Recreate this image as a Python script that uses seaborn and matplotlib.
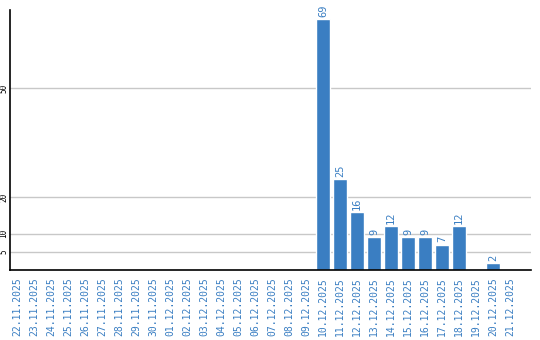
import matplotlib
matplotlib.use("Agg")
import matplotlib.pyplot as plt
import seaborn as sns
import pandas as pd

dates = ["22.11.2025", "23.11.2025", "24.11.2025", "25.11.2025", "26.11.2025",
         "27.11.2025", "28.11.2025", "29.11.2025", "30.11.2025", "01.12.2025",
         "02.12.2025", "03.12.2025", "04.12.2025", "05.12.2025", "06.12.2025",
         "07.12.2025", "08.12.2025", "09.12.2025", "10.12.2025", "11.12.2025",
         "12.12.2025", "13.12.2025", "14.12.2025", "15.12.2025", "16.12.2025",
         "17.12.2025", "18.12.2025", "19.12.2025", "20.12.2025", "21.12.2025"]
counts = [0, 0, 0, 0, 0, 0, 0, 0, 0, 0,
          0, 0, 0, 0, 0, 0, 0, 0, 69, 25,
          16, 9, 12, 9, 9, 7, 12, 0, 2, 0]
y_ticks = [5, 10, 20, 50]

BLUE = "#3a7ec2"
df = pd.DataFrame({"date": dates, "count": counts})

sns.set_theme(style="white")
fig = plt.figure(figsize=(5.4, 3.4), dpi=100)
ax = fig.add_axes([10/540, 70/340, 521/540, 260/340])

sns.barplot(data=df, x="date", y="count", color=BLUE, saturation=1,
            width=0.82, ax=ax, zorder=3)

ax.set_xlim(-0.41, 30.24)
ax.set_ylim(0, 71.4)
ax.set_yticks(y_ticks)
ax.set_yticklabels([str(t) for t in y_ticks], rotation=90, va="center",
                   fontsize=5.5, family="DejaVu Sans Mono", color="black")
ax.yaxis.grid(True, color="#c8c8c8", linewidth=1, zorder=0)
ax.xaxis.grid(False)
ax.tick_params(axis="y", length=0, pad=1)
ax.tick_params(axis="x", length=0, pad=5)
ax.set_xticks(range(len(dates)))
ax.set_xticklabels(dates, rotation=90, fontsize=7, color=BLUE,
                   family="DejaVu Sans Mono")
ax.set_xlabel("")
ax.set_ylabel("")

for s in ["top", "right"]:
    ax.spines[s].set_visible(False)
for s in ["left", "bottom"]:
    ax.spines[s].set_color("black")
    ax.spines[s].set_linewidth(1.2)
    ax.spines[s].set_zorder(5)

for i, v in enumerate(counts):
    if v > 0:
        ax.text(i, v + 0.6, str(v), rotation=90, ha="center", va="bottom",
                fontsize=7.5, color=BLUE, family="DejaVu Sans Mono")

fig.savefig("out.png", dpi=100)
